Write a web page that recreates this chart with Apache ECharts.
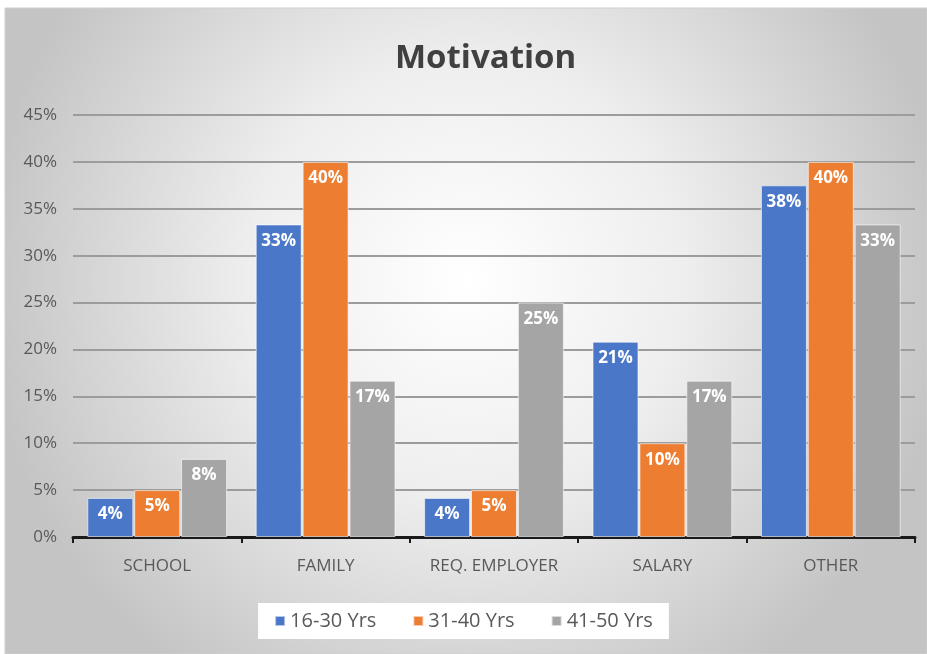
<!DOCTYPE html>
<html><head><meta charset="utf-8">
<script src="https://cdn.jsdelivr.net/npm/echarts@6/dist/echarts.min.js"></script>
<style>html,body{margin:0;padding:0;background:#fff}#c{width:927px;height:654px}</style>
</head><body><div id="c"></div>
<script>
const categories = ['SCHOOL', 'FAMILY', 'REQ. EMPLOYER', 'SALARY', 'OTHER'];
const seriesNames = ['16-30 Yrs', '31-40 Yrs', '41-50 Yrs'];
const s1630 = [4.17, 33.33, 4.17, 20.83, 37.5];
const s3140 = [5, 40, 5, 10, 40];
const s4150 = [8.33, 16.67, 25, 16.67, 33.33];
const colors = ['#4a77c8', '#ED7D31', '#A5A5A5'];
const font = 'Open Sans';

const chart = echarts.init(document.getElementById('c'));
const mk = (name, data, color) => ({
  name, type: 'bar', data, barGap: '2%', barCategoryGap: '17%',
  itemStyle: { color, borderColor: 'rgba(255,255,255,0.6)', borderWidth: 1 },
  label: { show: true, position: 'insideTop', distance: 8, color: '#fff', fontWeight: 'bold',
    fontFamily: font, fontSize: 17, formatter: p => Math.round(p.value) + '%' }
});
chart.setOption({
  backgroundColor: '#fff',
  graphic: [{
    type: 'rect', z: -10, silent: true,
    shape: { x: 5, y: 8, width: 922, height: 646 },
    style: {
      fill: { type: 'radial', x: 0.5, y: 0.42, r: 0.75, colorStops: [
        { offset: 0, color: '#ffffff' }, { offset: 0.45, color: '#eeeeee' }, { offset: 1, color: '#c4c4c4' }] },
      stroke: '#cfcfcf', lineWidth: 1
    }
  }],
  title: { text: 'Motivation', left: 390, top: 37,
    textStyle: { fontFamily: font, fontSize: 33, fontWeight: 'bold', color: '#404040' } },
  legend: { data: seriesNames, bottom: 15, left: 'center', backgroundColor: '#ffffff',
    padding: [8, 16], itemGap: 36, itemWidth: 10, itemHeight: 10, icon: 'rect',
    textStyle: { fontFamily: font, fontSize: 20, color: '#595959' } },
  grid: { left: 73, right: 12, top: 115, bottom: 117, containLabel: false },
  xAxis: { type: 'category', data: categories,
    axisLine: { lineStyle: { color: '#1a1a1a', width: 3 } },
    axisTick: { show: true, length: 6, lineStyle: { color: '#1a1a1a', width: 2 } },
    axisLabel: { fontFamily: font, fontSize: 17, color: '#595959', margin: 21 } },
  yAxis: { type: 'value', min: 0, max: 45, interval: 5,
    axisLabel: { formatter: '{value}%', fontFamily: font, fontSize: 17, color: '#595959', margin: 16 },
    splitLine: { lineStyle: { color: '#9c9c9c', width: 2 } },
    axisLine: { show: false }, axisTick: { show: false } },
  series: [mk(seriesNames[0], s1630, colors[0]), mk(seriesNames[1], s3140, colors[1]), mk(seriesNames[2], s4150, colors[2])]
});
</script></body></html>
